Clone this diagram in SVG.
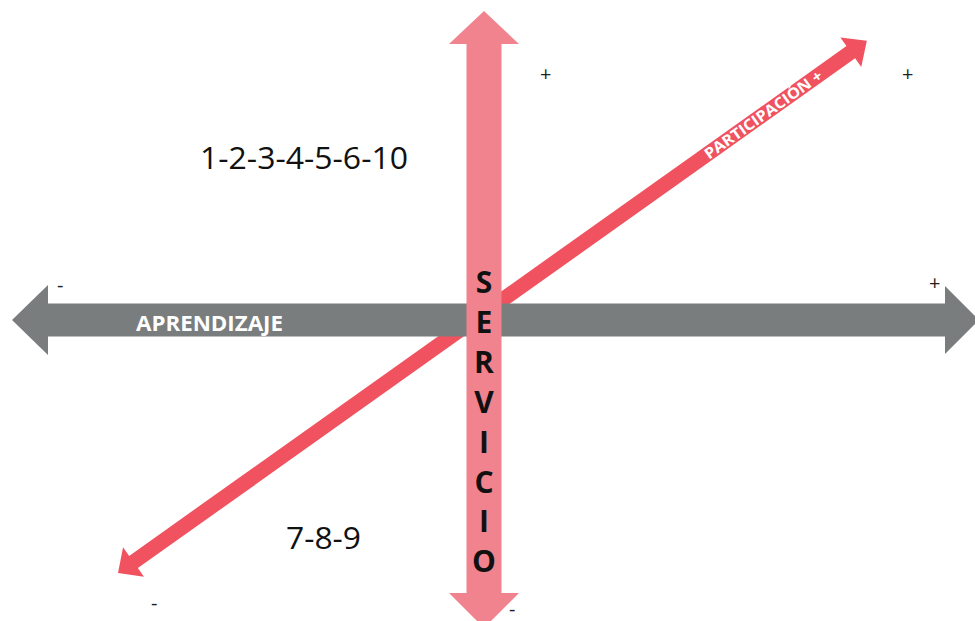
<svg xmlns="http://www.w3.org/2000/svg" width="975" height="621" viewBox="0 0 975 621">
<style>
.sign{font-family:"Open Sans","Liberation Sans",Arial,sans-serif;font-size:20px;fill:#231f20}
.num{font-family:"Open Sans","Liberation Sans",Arial,sans-serif;font-size:31px;fill:#111}
.lbl{font-family:"Open Sans","Liberation Sans",Arial,sans-serif;font-weight:bold;fill:#fff}
.serv{font-family:"Open Sans","Liberation Sans",Arial,sans-serif;font-weight:bold;font-size:30px;fill:#111;text-anchor:middle}
</style>
<rect width="975" height="621" fill="#fff"/>
<g id="connectors">
<g id="participacion" transform="translate(118,573) rotate(-35.4)">
<path d="M0,0 L19,-18 L19,-7.5 L899,-7.5 L899,-18 L918.7,0 L899,18 L899,7.5 L19,7.5 L19,18 Z" fill="#F0525F"/>
<text class="lbl" x="721" y="5.5" font-size="15" textLength="141" lengthAdjust="spacingAndGlyphs">PARTICIPACIÓN +</text>
</g>
<g id="aprendizaje">
<path d="M12,320 L48,285 L48,303.5 L945,303.5 L945,286 L979,320 L945,354 L945,336.5 L48,336.5 L48,355 Z" fill="#7A7D7D"/>
<text class="lbl" x="136" y="331" font-size="21" textLength="147" lengthAdjust="spacingAndGlyphs">APRENDIZAJE</text>
</g>
<g id="servicio">
<path d="M484,11 L519,44 L501.5,44 L501.5,593 L519,593 L484,628 L449,593 L466.5,593 L466.5,44 L449,44 Z" fill="#F1838F"/>
<text class="serv" x="484" y="293">S</text>
<text class="serv" x="484" y="333">E</text>
<text class="serv" x="484" y="373">R</text>
<text class="serv" x="484" y="413">V</text>
<text class="serv" x="484" y="453">I</text>
<text class="serv" x="484" y="493">C</text>
<text class="serv" x="484" y="532">I</text>
<text class="serv" x="484" y="572">O</text>
</g>
</g>
<g id="group-top">
<text class="num" x="200" y="169" textLength="208" lengthAdjust="spacingAndGlyphs">1-2-3-4-5-6-10</text>
</g>
<g id="group-bottom">
<text class="num" x="286" y="549" textLength="75" lengthAdjust="spacingAndGlyphs">7-8-9</text>
</g>
<g id="signs">
<text class="sign" x="540" y="81">+</text>
<text class="sign" x="902" y="81">+</text>
<text class="sign" x="929" y="290">+</text>
<text class="sign" x="57" y="292">-</text>
<text class="sign" x="151" y="610">-</text>
<text class="sign" x="509" y="616" font-size="16">-</text>
</g>
</svg>
